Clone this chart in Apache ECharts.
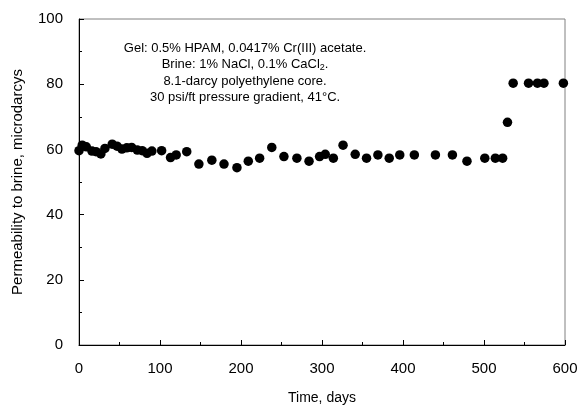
<!DOCTYPE html>
<html><head><meta charset="utf-8">
<script src="https://cdn.jsdelivr.net/npm/echarts@6/dist/echarts.min.js"></script>
<style>html,body{margin:0;padding:0;background:#fff}#c{width:580px;height:405px}</style>
</head><body><div id="c"></div>
<script>
const days = [0,4,9,16,21,27,32,41,47,53,59,65,72,78,84,90,102,113,120,133,148,164,179,195,209,223,238,253,269,284,297,304,314,326,341,355,369,383,396,414,440,461,479,501,514,523,529,536,555,566,574,598];
const permeability = [59.6,61.3,60.8,59.5,59.3,58.6,60.3,61.6,61.0,60.1,60.5,60.6,59.8,59.6,58.8,59.5,59.6,57.5,58.3,59.3,55.5,56.7,55.5,54.4,56.4,57.3,60.6,57.8,57.3,56.4,57.8,58.5,57.3,61.3,58.5,57.3,58.3,57.3,58.3,58.3,58.3,58.3,56.4,57.3,57.3,57.3,68.3,80.3,80.3,80.3,80.3,80.3];
const xTitle = 'Time, days';
const yTitle = 'Permeability to brine, microdarcys';
const noteLines = ['Gel: 0.5% HPAM, 0.0417% Cr(III) acetate.', 'Brine: 1% NaCl, 0.1% CaCl{sub|2}.', '8.1-darcy polyethylene core.', '30 psi/ft pressure gradient, 41°C.'];

const font = 'Liberation Sans, Arial, sans-serif';
const chart = echarts.init(document.getElementById('c'));
chart.setOption({
  animation: false,
  backgroundColor: '#fff',
  grid: {left: 79, right: 15, top: 19, bottom: 60, containLabel: false, outerBoundsMode: 'none',
         show: true, borderColor: '#808080', borderWidth: 1},
  xAxis: {
    type: 'value', min: 0, max: 600, interval: 100,
    name: xTitle, nameLocation: 'middle', nameGap: 46,
    nameTextStyle: {fontFamily: font, fontSize: 14, color: '#000'},
    axisLine: {onZero: false, lineStyle: {color: '#000', width: 1}},
    axisTick: {inside: true, length: 5, lineStyle: {color: '#000'}},
    minorTick: {show: true, splitNumber: 2, length: 3, lineStyle: {color: '#000'}},
    axisLabel: {fontFamily: font, fontSize: 15, color: '#000', margin: 16},
    splitLine: {show: false}
  },
  yAxis: {
    type: 'value', min: 0, max: 100, interval: 20,
    name: yTitle, nameLocation: 'middle', nameGap: 54, nameRotate: 90,
    nameTextStyle: {fontFamily: font, fontSize: 15, color: '#000'},
    axisLine: {show: true, onZero: false, lineStyle: {color: '#000', width: 1}},
    axisTick: {show: true, inside: true, length: 5, lineStyle: {color: '#000'}},
    minorTick: {show: true, splitNumber: 2, length: 3, lineStyle: {color: '#000'}},
    axisLabel: {fontFamily: font, fontSize: 15, color: '#000', margin: 16},
    splitLine: {show: false}
  },
  series: [{
    type: 'scatter',
    data: days.map((d, i) => [d, permeability[i]]),
    symbol: 'circle', symbolSize: 9.5,
    itemStyle: {color: '#000', opacity: 1}
  }]
});
const cx = chart.convertToPixel({xAxisIndex: 0}, 205);
chart.setOption({
  graphic: [{
    type: 'text', x: cx, y: 40,
    style: {
      text: noteLines.join('\n'),
      font: '13px ' + font,
      fill: '#000',
      align: 'center', verticalAlign: 'top',
      lineHeight: 16.5,
      rich: {sub: {fontSize: 9, fontFamily: font, padding: [6, 0, 0, 0], fill: '#000'}}
    }
  }]
});
</script></body></html>
